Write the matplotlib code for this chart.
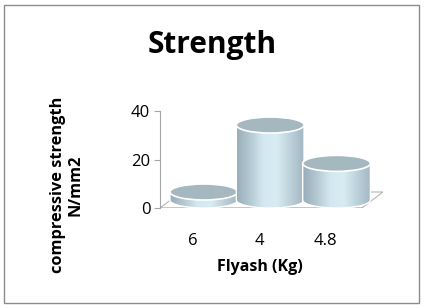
import numpy as np
import matplotlib.pyplot as plt
from matplotlib.patches import Ellipse, Polygon, Rectangle, PathPatch
from matplotlib.path import Path
from matplotlib.colors import LinearSegmentedColormap

plt.rcParams['font.family'] = ['Open Sans', 'DejaVu Sans']

# Flyash content vs compressive strength
categories = ['6', '4', '4.8']
strength = [3.3, 30.9, 15.1]

W, H = 425, 308
fig = plt.figure(figsize=(W / 100, H / 100), dpi=100)
ax = fig.add_axes([160 / W, 100 / H, 223 / W, 97 / H])

# 3d look: floor depth and cylinder size (in data units)
depth_x, depth_y = 0.32, 6.6
r = 0.51
ry = 3.3
x_front_right = 2.54

body_cmap = LinearSegmentedColormap.from_list(
    'cyl', ['#97adb8', '#b4c8d1', '#d3e8f0', '#d8ecf4', '#bcd1da', '#a3b8c2'])

# floor
floor = Polygon([(-0.5, 0), (x_front_right, 0),
                 (x_front_right + depth_x, depth_y), (-0.5 + depth_x, depth_y)],
                closed=True, fc='white', ec='#b5b5b5', lw=0.8, zorder=1)
ax.add_patch(floor)
ax.plot([-0.5, x_front_right], [0, 0], color='#8f8f8f', lw=1.0, zorder=1.5)

t = np.linspace(np.pi, 2 * np.pi, 60)
grad = np.linspace(0, 1, 200).reshape(1, -1)

for i, v in enumerate(strength):
    cx = i + depth_x / 2
    base = depth_y / 2
    top = base + v
    z = 3 + i * 3
    ex = cx + r * np.cos(t)
    ey = base + ry * np.sin(t)
    verts = [(cx - r, top)] + list(zip(ex, ey)) + [(cx + r, top), (cx - r, top)]
    codes = [Path.MOVETO] + [Path.LINETO] * (len(verts) - 2) + [Path.CLOSEPOLY]
    body = PathPatch(Path(verts, codes), fc='none', ec='white', lw=1.0,
                     zorder=z + 1, clip_on=False)
    ax.add_patch(body)
    im = ax.imshow(grad, extent=(cx - r, cx + r, base - ry, top), cmap=body_cmap,
                   aspect='auto', zorder=z, interpolation='bilinear')
    im.set_clip_path(body)
    cap = Ellipse((cx, top), 2 * r, 2 * ry, fc='#a5b7bf', ec='white', lw=1.2,
                  zorder=z + 2, clip_on=False)
    ax.add_patch(cap)

ax.set_xlim(-0.5, x_front_right + depth_x)
ax.set_ylim(0, 40)
ax.set_yticks([0, 20, 40])
ax.set_xticks(range(len(categories)))
ax.set_xticklabels(categories)
for s in ['top', 'right', 'bottom']:
    ax.spines[s].set_visible(False)
ax.spines['left'].set_color('#a6a6a6')
ax.tick_params(axis='y', length=4, color='#a6a6a6', labelsize=12, pad=3)
ax.tick_params(axis='x', length=0, labelsize=12, pad=18)

fig.text(212 / W, 1 - 45 / H, 'Strength', fontsize=21.5, fontweight='bold',
         ha='center', va='center')
fig.text(260 / W, 1 - 267 / H, 'Flyash (Kg)', fontsize=11.5, fontweight='bold',
         ha='center', va='center')
fig.text(67 / W, 1 - 185 / H, 'compressive strength\nN/mm2', fontsize=11.8,
         fontweight='bold', rotation=90, ha='center', va='center',
         multialignment='center', linespacing=1.1)

fig.patches.append(Rectangle((4 / W, 5 / H), 415 / W, 298 / H, transform=fig.transFigure,
                             fill=False, ec='#8c8c8c', lw=1))

fig.savefig('out.png', dpi=100)
